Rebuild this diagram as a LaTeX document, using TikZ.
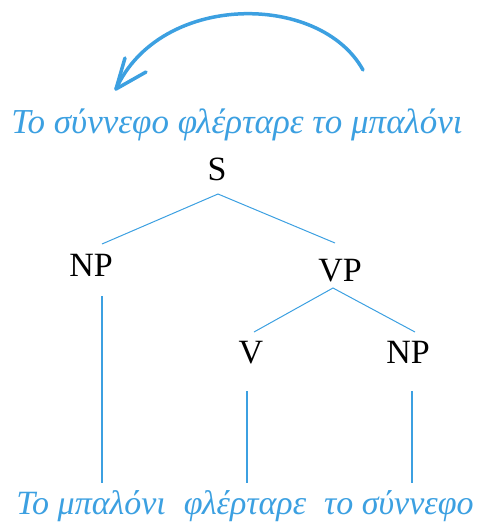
\documentclass[tikz,border=0pt]{standalone}
\usepackage{fontspec}
\setmainfont{Liberation Serif}
\definecolor{lblue}{RGB}{60,160,225}
\begin{document}
\begin{tikzpicture}[x=1pt,y=-1pt,
  lab/.style={font=\fontsize{34}{36}\selectfont, inner sep=0pt, anchor=base},
  gtext/.style={font=\fontsize{35}{38}\selectfont\itshape, text=lblue, inner sep=0pt, anchor=base},
  branch/.style={draw=lblue, line width=1pt},
  stem/.style={draw=lblue, line width=2pt},
  bigarrow/.style={draw=lblue, line width=3.5pt, line cap=round, line join=round}]
\useasboundingbox (0,0) rectangle (483,523);
% arrow
\coordinate (a0) at (363,70);
\coordinate (tip) at (116,89);
\coordinate (b1) at (125,58);
\coordinate (b2) at (146,72);
\draw[bigarrow] (a0) .. controls (320,-8) and (160,-8) .. (tip);
\draw[bigarrow] (b1) -- (tip) -- (b2);
% texts
\node[gtext] (top) at (237,133) {Το σύννεφο φλέρταρε το μπαλόνι};
\node[lab] (S) at (217,180) {S};
\node[lab] (NP1) at (91,276) {NP};
\node[lab] (VP) at (340,281) {VP};
\node[lab] (V) at (251,363) {V};
\node[lab] (NP2) at (408,363) {NP};
\node[gtext, font=\fontsize{34}{36}\selectfont\itshape] (bot) at (245,514) {Το μπαλόνι\hspace{18pt}φλέρταρε\hspace{18pt}το σύννεφο};
% tree connectors
\coordinate (s1) at (218,194);
\coordinate (np1t) at (102,244);
\coordinate (vpt) at (335,243);
\coordinate (vp1) at (333,288);
\coordinate (vt) at (254,332);
\coordinate (np2t) at (415,332);
\draw[branch] (np1t) -- (s1) -- (vpt);
\draw[branch] (vt) -- (vp1) -- (np2t);
\coordinate (np1b) at (102,296);
\coordinate (w1) at (102,483);
\coordinate (vb) at (247,391);
\coordinate (w2) at (247,483);
\coordinate (np2b) at (412,391);
\coordinate (w3) at (412,483);
\draw[stem] (np1b) -- (w1);
\draw[stem] (vb) -- (w2);
\draw[stem] (np2b) -- (w3);
\end{tikzpicture}
\end{document}
